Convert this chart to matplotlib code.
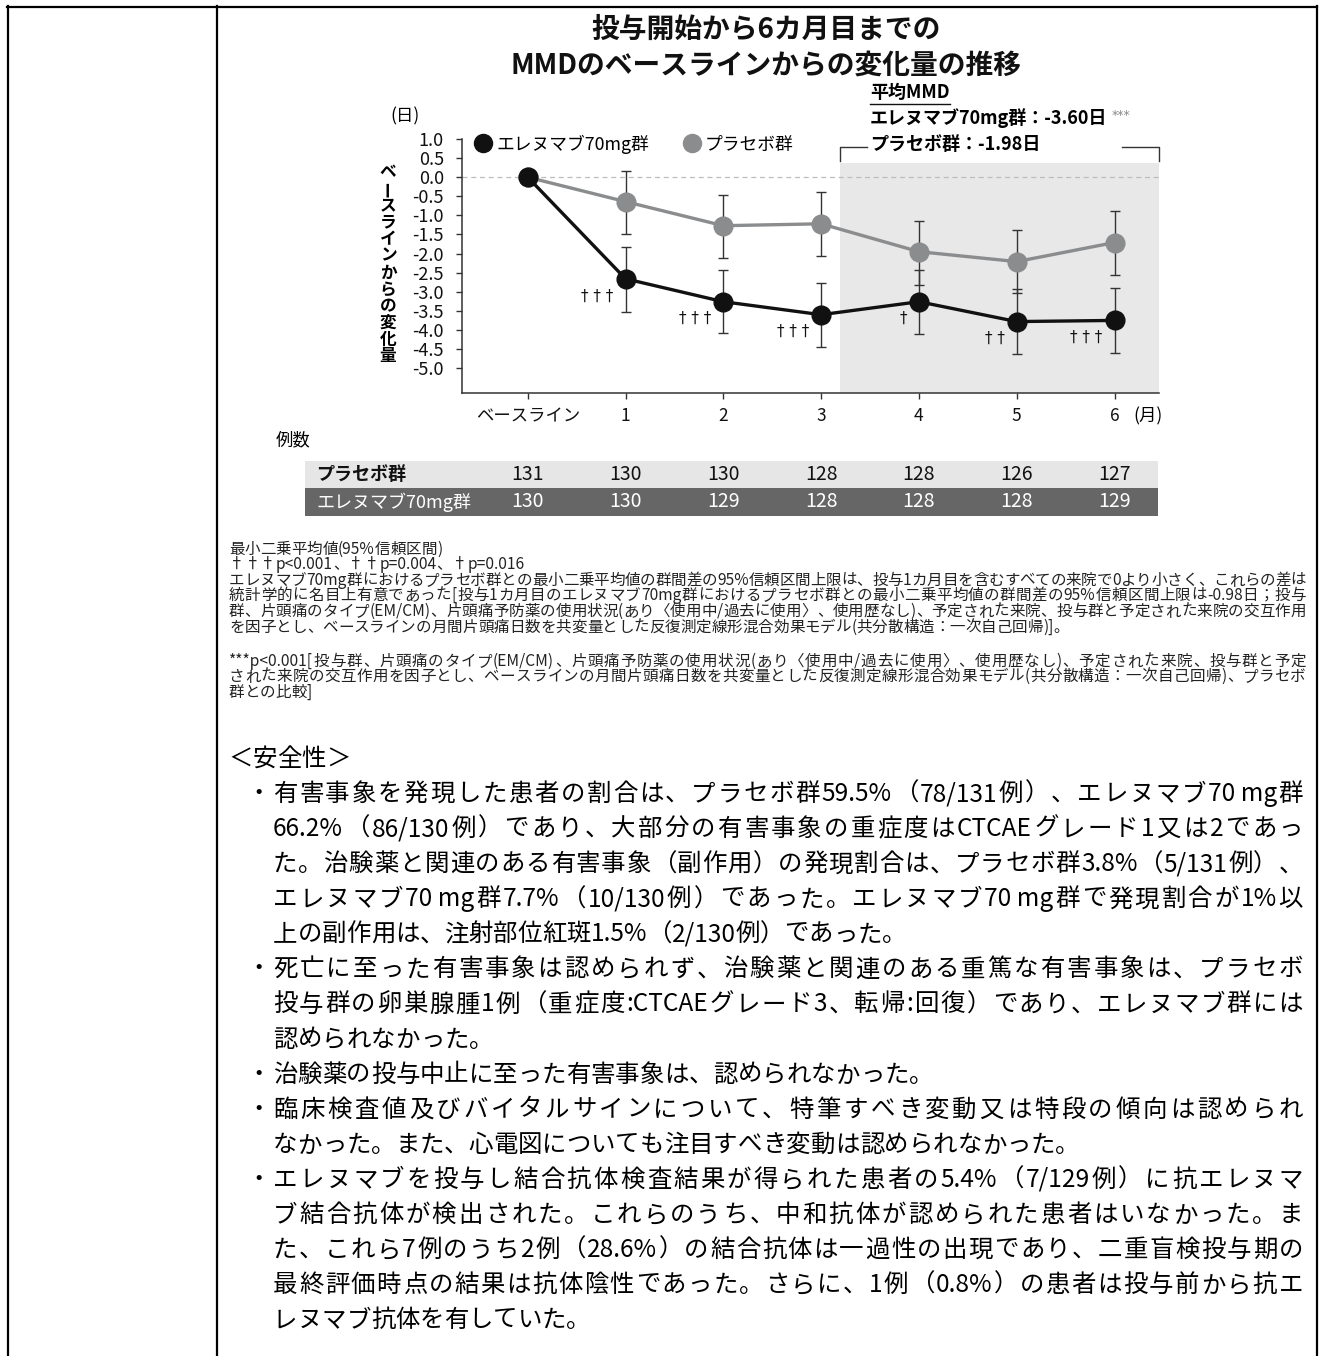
"""
plot.py

MMD change from baseline over the first 6 months (erenumab 70mg vs placebo),
with the n table, footnotes and the safety summary text underneath.
"""

import numpy as np
import matplotlib
matplotlib.use("Agg")
import matplotlib.pyplot as plt
from matplotlib import font_manager
from matplotlib.lines import Line2D
from matplotlib.patches import Rectangle
from matplotlib.transforms import blended_transform_factory

W, H, DPI = 1323, 1356, 100
JP = "Noto Sans CJK JP"
plt.rcParams["font.family"] = [JP, "DejaVu Sans"]

# ---- values ----
months = [0, 1, 2, 3, 4, 5, 6]
month_labels = ["ベースライン", "1", "2", "3", "4", "5", "6"]

ere_mean = [0.0, -2.66, -3.26, -3.60, -3.26, -3.78, -3.75]
ere_lo = [0.0, -3.52, -4.08, -4.45, -4.11, -4.63, -4.60]
ere_hi = [0.0, -1.83, -2.43, -2.78, -2.43, -2.93, -2.91]

pla_mean = [0.0, -0.64, -1.27, -1.22, -1.95, -2.21, -1.71]
pla_lo = [0.0, -1.49, -2.12, -2.06, -2.82, -3.04, -2.57]
pla_hi = [0.0, 0.17, -0.46, -0.39, -1.14, -1.38, -0.88]

daggers = ["", "†††", "†††", "†††", "†", "††", "†††"]

yticks = [1.0, 0.5, 0.0, -0.5, -1.0, -1.5, -2.0, -2.5, -3.0, -3.5, -4.0, -4.5, -5.0]

n_placebo = [131, 130, 130, 128, 128, 126, 127]
n_ere = [130, 130, 129, 128, 128, 128, 129]

shade_from = 3.19      # months 4-6 highlighted
shade_top = 0.37

title_lines = ["投与開始から6カ月目までの", "MMDのベースラインからの変化量の推移"]
ylabel = "ベースラインからの変化量"
mean_head = "平均MMD"
mean_ere = "エレヌマブ70mg群：-3.60日"
mean_pla = "プラセボ群：-1.98日"

footnotes = [
    ("最小二乗平均値(95%信頼区間)", False),
    ("†††p<0.001、††p=0.004、†p=0.016", False),
    ("エレヌマブ70mg群におけるプラセボ群との最小二乗平均値の群間差の95%信頼区間上限は、投与1カ月目を含むすべての来院で0より小さく、これらの差は", True),
    ("統計学的に名目上有意であった[投与1カ月目のエレヌマブ70mg群におけるプラセボ群との最小二乗平均値の群間差の95%信頼区間上限は-0.98日；投与", True),
    ("群、片頭痛のタイプ(EM/CM)、片頭痛予防薬の使用状況(あり〈使用中/過去に使用〉、使用歴なし)、予定された来院、投与群と予定された来院の交互作用", True),
    ("を因子とし、ベースラインの月間片頭痛日数を共変量とした反復測定線形混合効果モデル(共分散構造：一次自己回帰)]。", False),
    ("***p<0.001[投与群、片頭痛のタイプ(EM/CM)、片頭痛予防薬の使用状況(あり〈使用中/過去に使用〉、使用歴なし)、予定された来院、投与群と予定", True),
    ("された来院の交互作用を因子とし、ベースラインの月間片頭痛日数を共変量とした反復測定線形混合効果モデル(共分散構造：一次自己回帰)、プラセボ", True),
    ("群との比較]", False),
]
foot_y = [548, 563, 579, 594, 610, 626, 660, 675, 691]

safety_head = "＜安全性＞"
# (bullet, text, justified)
safety = [
    (True, "有害事象を発現した患者の割合は、プラセボ群59.5%（78/131例）、エレヌマブ70 mg群", True),
    (False, "66.2%（86/130例）であり、大部分の有害事象の重症度はCTCAEグレード1又は2であっ", True),
    (False, "た。治験薬と関連のある有害事象（副作用）の発現割合は、プラセボ群3.8%（5/131例）、", True),
    (False, "エレヌマブ70 mg群7.7%（10/130例）であった。エレヌマブ70 mg群で発現割合が1%以", True),
    (False, "上の副作用は、注射部位紅斑1.5%（2/130例）であった。", False),
    (True, "死亡に至った有害事象は認められず、治験薬と関連のある重篤な有害事象は、プラセボ", True),
    (False, "投与群の卵巣腺腫1例（重症度:CTCAEグレード3、転帰:回復）であり、エレヌマブ群には", True),
    (False, "認められなかった。", False),
    (True, "治験薬の投与中止に至った有害事象は、認められなかった。", False),
    (True, "臨床検査値及びバイタルサインについて、特筆すべき変動又は特段の傾向は認められ", True),
    (False, "なかった。また、心電図についても注目すべき変動は認められなかった。", False),
    (True, "エレヌマブを投与し結合抗体検査結果が得られた患者の5.4%（7/129例）に抗エレヌマ", True),
    (False, "ブ結合抗体が検出された。これらのうち、中和抗体が認められた患者はいなかった。ま", True),
    (False, "た、これら7例のうち2例（28.6%）の結合抗体は一過性の出現であり、二重盲検投与期の", True),
    (False, "最終評価時点の結果は抗体陰性であった。さらに、1例（0.8%）の患者は投与前から抗エ", True),
    (False, "レヌマブ抗体を有していた。", False),
]

BLACK = "#111111"
GRAY = "#8b8c8e"
EDGE = "#333333"

fig = plt.figure(figsize=(W / DPI, H / DPI), dpi=DPI)


def fx(px):
    return px / W


def fy(py):
    return 1 - py / H


# ---- text helpers (advance widths so lines can be justified like the page) ----
_paths = {}


def font_path(weight):
    if weight not in _paths:
        _paths[weight] = font_manager.findfont(
            font_manager.FontProperties(family=JP, weight=weight))
    return _paths[weight]


def advances(text, size, weight="normal"):
    font = font_manager.get_font(font_path(weight))
    font.set_size(size, DPI)
    ref = font.load_char(0x3000).linearHoriAdvance / 65536
    k = (size * DPI / 72) / ref if ref else 1.0
    return [font.load_char(ord(c)).linearHoriAdvance / 65536 * k for c in text]


def split_tokens(line):
    toks = []
    for ch in line:
        if ord(ch) < 0x2000 and toks and ord(toks[-1][-1]) < 0x2000:
            toks[-1] += ch
        else:
            toks.append(ch)
    return toks


def put_line(line, x0, yc, size, x1=None, color="black", weight="normal"):
    toks = split_tokens(line)
    widths = [sum(advances(t, size, weight)) for t in toks]
    gap = 0.0
    if x1 is not None and len(toks) > 1:
        gap = (x1 - x0 - sum(widths)) / (len(toks) - 1)
    base = yc + 0.37 * size * DPI / 72
    x = x0
    for t, w in zip(toks, widths):
        fig.text(fx(x), fy(base), t, fontsize=size, color=color,
                 weight=weight, ha="left", va="baseline")
        x += w + gap


# ---- page frame ----
frame_kw = dict(transform=fig.transFigure, color="black", lw=1.6)
fig.add_artist(Line2D([fx(6.5), fx(1317)], [fy(6.5), fy(6.5)], **frame_kw))
fig.add_artist(Line2D([fx(7.5), fx(7.5)], [fy(6), 0], **frame_kw))
fig.add_artist(Line2D([fx(217), fx(217)], [fy(6), 0], **frame_kw))
fig.add_artist(Line2D([fx(1316.5), fx(1316.5)], [fy(6), 0], **frame_kw))

# ---- title ----
for i, t in enumerate(title_lines):
    fig.text(fx(766), fy(30 + 36 * i), t, fontsize=20, weight="bold",
             ha="center", va="center", color=BLACK)

# ---- chart ----
ax = fig.add_axes([fx(461.7), fy(393), (1159.3 - 461.7) / W, (393 - 139) / H])
ax.set_xlim(-0.675, 6.458)
ax.set_ylim(-5.65, 1.0)
ax.patch.set_alpha(0)

for s in ("top", "right"):
    ax.spines[s].set_visible(False)
for s in ("left", "bottom"):
    ax.spines[s].set_color(EDGE)
    ax.spines[s].set_linewidth(1.1)

ax.fill_between([shade_from, ax.get_xlim()[1]], ax.get_ylim()[0], shade_top,
                color="#e8e8e8", lw=0, zorder=0)
ax.axhline(0, color="#bdbdbd", lw=0.9, ls=(0, (4, 3)), zorder=1)

# bracket over the shaded months
br_kw = dict(color=EDGE, lw=1.0, clip_on=False, zorder=2)
ax.plot([shade_from, shade_from, 3.47], [0.43, 0.79, 0.79], **br_kw)
ax.plot([6.08, 6.458, 6.458], [0.79, 0.79, 0.43], **br_kw)

m = np.array(months[1:])
pm = np.array(pla_mean[1:])
em = np.array(ere_mean[1:])
ax.errorbar(m, pm, yerr=[pm - np.array(pla_lo[1:]), np.array(pla_hi[1:]) - pm],
            fmt="none", ecolor=EDGE, elinewidth=1.0, capsize=3.8, capthick=1.0, zorder=2)
ax.plot(months, pla_mean, color=GRAY, lw=2.4, marker="o", ms=13.5, zorder=3)
ax.errorbar(m, em, yerr=[em - np.array(ere_lo[1:]), np.array(ere_hi[1:]) - em],
            fmt="none", ecolor=EDGE, elinewidth=1.0, capsize=3.8, capthick=1.0, zorder=4)
ax.plot(months, ere_mean, color=BLACK, lw=2.4, marker="o", ms=13.5, zorder=5)

for x, y, d in zip(months, ere_mean, daggers):
    if d:
        ax.annotate(" ".join(d), (x, y), xytext=(-12, -17), textcoords="offset pixels",
                    ha="right", va="center", fontsize=11, family="DejaVu Sans",
                    color=BLACK)

ax.set_yticks(yticks)
ax.set_yticklabels([f"{v:.1f}" for v in yticks])
ax.set_xticks(months)
ax.set_xticklabels(month_labels)
ax.tick_params(axis="y", direction="out", length=4.3, width=1.0, color=EDGE,
               labelsize=13, pad=8.5, labelcolor=BLACK)
ax.tick_params(axis="x", direction="out", length=4.3, width=1.0, color=EDGE,
               labelsize=12.5, pad=6, labelcolor=BLACK)

xtrans = blended_transform_factory(ax.transData, fig.transFigure)
ax.text(6.19, fy(416), "(月)", transform=xtrans, fontsize=12.5, ha="left", va="center")
fig.text(fx(405), fy(116), "(日)", fontsize=12.5, ha="center", va="center")

# vertical (tategaki) y label
for i, ch in enumerate(ylabel):
    fig.text(fx(388), fy(171.7 + 16.8 * i), ch, fontsize=12, weight="bold",
             ha="center", va="center", rotation=90 if ch == "ー" else 0)

# legend
handles = [Line2D([], [], marker="o", ls="none", color=BLACK, ms=13),
           Line2D([], [], marker="o", ls="none", color=GRAY, ms=13)]
fig.legend(handles, ["エレヌマブ70mg群", "プラセボ群"], loc="center left",
           bbox_to_anchor=(fx(474), fy(144)), ncol=2, frameon=False,
           handlelength=1.0, handletextpad=0.25, columnspacing=1.9,
           borderpad=0, borderaxespad=0, prop={"size": 12.8})

# mean MMD box
MX = 870
fig.text(fx(MX), fy(92), mean_head, fontsize=13, weight="bold", ha="left", va="center")
uw = sum(advances(mean_head, 13, "bold"))
fig.add_artist(Line2D([fx(MX), fx(MX + uw)], [fy(104), fy(104)],
                      transform=fig.transFigure, color=BLACK, lw=1.0))
fig.text(fx(MX), fy(118), mean_ere, fontsize=13, weight="bold", ha="left", va="center")
ew = sum(advances(mean_ere, 13, "bold"))
fig.text(fx(MX + ew + 3), fy(115), "***", fontsize=9, color="#8a8a8a",
         ha="left", va="center", family="DejaVu Sans")
fig.text(fx(MX), fy(144), mean_pla, fontsize=13, weight="bold", ha="left", va="center")

# ---- n table ----
fig.text(fx(276), fy(440), "例数", fontsize=12.5, ha="left", va="center")
fig.add_artist(Rectangle((fx(305), fy(488)), fx(1158) - fx(305), 27 / H,
                         transform=fig.transFigure, color="#e6e6e6", lw=0, zorder=-1))
fig.add_artist(Rectangle((fx(305), fy(516)), fx(1158) - fx(305), 28 / H,
                         transform=fig.transFigure, color="#666666", lw=0, zorder=-1))
fig.text(fx(316), fy(474), "プラセボ群", fontsize=13, weight="bold",
         ha="left", va="center", color=BLACK)
fig.text(fx(316), fy(502), "エレヌマブ70mg群", fontsize=13,
         ha="left", va="center", color="white")
for x, a, b in zip(months, n_placebo, n_ere):
    fig.text(x, fy(474), str(a), transform=xtrans, fontsize=14, ha="center",
             va="center", color=BLACK)
    fig.text(x, fy(502), str(b), transform=xtrans, fontsize=14, ha="center",
             va="center", color="white")

# ---- footnotes ----
for (line, just), y in zip(footnotes, foot_y):
    put_line(line, 229, y, 11.2, x1=1306 if just else None, color="#222222")

# ---- safety text ----
BODY = 17.6
put_line(safety_head, 228, 757, BODY)
for i, (bullet, line, just) in enumerate(safety):
    y = 792 + 35.07 * i
    if bullet:
        put_line("・", 246, y, BODY)
    put_line(line, 273, y, BODY, x1=1303 if just else None)

fig.savefig("out.png", dpi=DPI)
